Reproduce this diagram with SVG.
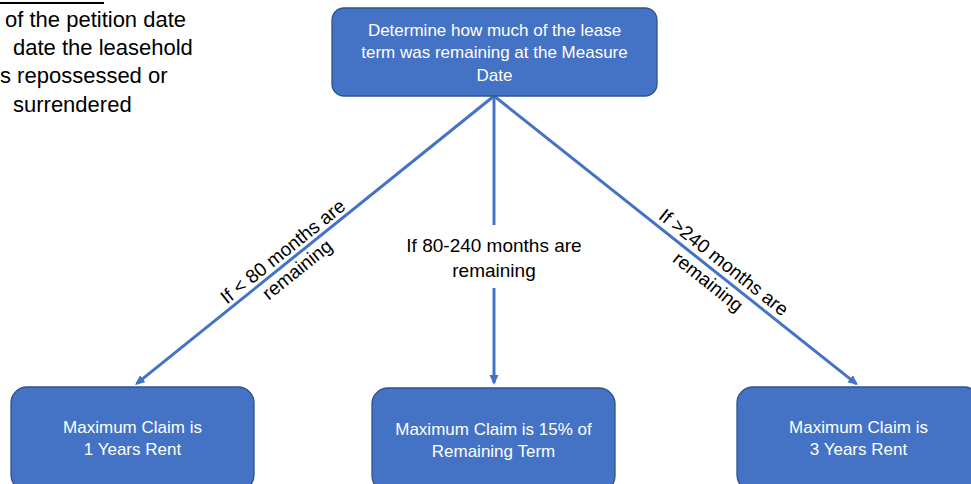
<svg xmlns="http://www.w3.org/2000/svg" width="971" height="484" viewBox="0 0 971 484">
<defs>
<style>
.box{fill:#4472C4;stroke:#2F528F;stroke-width:1.3}
.wt{fill:#ffffff;font-family:"Liberation Sans",Arial,sans-serif;font-size:17px;text-anchor:middle}
.bt{fill:#000000;font-family:"Liberation Sans",Arial,sans-serif;font-size:19px;text-anchor:middle}
.note{fill:#000000;font-family:"Liberation Sans",Arial,sans-serif;font-size:22px}
.conn{stroke:#4472C4;stroke-width:3;fill:none}
</style>
<marker id="arr" markerUnits="userSpaceOnUse" markerWidth="12" markerHeight="10" refX="8" refY="4.5" orient="auto">
<path d="M0,0 L10,4.5 L0,9 z" fill="#4472C4"/>
</marker>
</defs>
<rect width="971" height="484" fill="#ffffff"/>
<g id="note">
<line x1="0" y1="3" x2="104" y2="3" stroke="#000" stroke-width="2"/>
<text class="note" x="5" y="27">of the petition date</text>
<text class="note" x="13" y="55">date the leasehold</text>
<text class="note" x="0" y="83">s repossessed or</text>
<text class="note" x="13" y="112">surrendered</text>
</g>
<g id="connectors">
<line class="conn" x1="494" y1="96" x2="136.6" y2="383.7" marker-end="url(#arr)"/>
<line class="conn" x1="494" y1="96" x2="494" y2="225"/>
<line class="conn" x1="494" y1="288" x2="494" y2="383" marker-end="url(#arr)"/>
<line class="conn" x1="494" y1="96" x2="856.4" y2="383.8" marker-end="url(#arr)"/>
<g transform="translate(290,260.5) rotate(-38.8)">
<text class="bt" x="0" y="-5">If &lt; 80 months are</text>
<text class="bt" x="0" y="18">remaining</text>
</g>
<text class="bt" x="494" y="252">If 80-240 months are</text>
<text class="bt" x="494" y="277">remaining</text>
<g transform="translate(716,272) rotate(38.45)">
<text class="bt" x="0" y="-6">If &gt;240 months are</text>
<text class="bt" x="0" y="19">remaining</text>
</g>
</g>
<g id="top">
<rect class="box" x="332" y="8" width="325" height="88" rx="12"/>
<text class="wt" x="494.5" y="36">Determine how much of the lease</text>
<text class="wt" x="494.5" y="58">term was remaining at the Measure</text>
<text class="wt" x="494.5" y="81">Date</text>
</g>
<g id="left">
<rect class="box" x="11" y="387" width="243" height="104" rx="16"/>
<text class="wt" x="132.5" y="433">Maximum Claim is</text>
<text class="wt" x="132.5" y="455">1 Years Rent</text>
</g>
<g id="middle">
<rect class="box" x="372" y="388" width="243" height="104" rx="16"/>
<text class="wt" x="493.5" y="435">Maximum Claim is 15% of</text>
<text class="wt" x="493.5" y="457">Remaining Term</text>
</g>
<g id="right">
<rect class="box" x="737" y="387" width="243" height="104" rx="16"/>
<text class="wt" x="858.5" y="433">Maximum Claim is</text>
<text class="wt" x="858.5" y="455">3 Years Rent</text>
</g>
</svg>
